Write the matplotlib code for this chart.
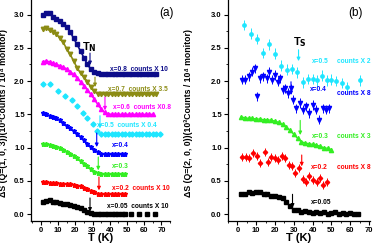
import matplotlib
matplotlib.use("Agg")
import matplotlib.pyplot as plt
from matplotlib.ticker import MultipleLocator

plt.rcParams['font.family'] = ['Liberation Sans', 'DejaVu Sans']
plt.rcParams['font.weight'] = 'bold'

# ---------------- panel (a): Q=(1,0,3) ----------------
a08_T = [1, 3, 5, 7, 9, 11, 13, 15, 17, 19, 21, 23, 25, 27, 29, 31, 33, 35, 37,
         39, 41, 43, 45, 47, 49, 51, 53, 55, 57, 59, 61, 63, 65, 67]
a08_S = [3.00, 3.03, 3.02, 2.97, 2.93, 2.90, 2.86, 2.82, 2.74, 2.64, 2.55, 2.45, 2.35,
         2.25, 2.18, 2.14, 2.12, 2.11, 2.11, 2.11, 2.10, 2.11, 2.10, 2.10, 2.11, 2.10,
         2.10, 2.10, 2.11, 2.10, 2.10, 2.10, 2.10, 2.10]

a07_T = [1, 3, 5, 7, 9, 11, 13, 15, 17, 19, 21, 23, 25, 27, 29, 31, 33, 35, 37,
         39, 41, 43, 45, 47, 49, 51, 53, 55, 57, 59, 61, 63, 65, 67]
a07_S = [2.78, 2.80, 2.76, 2.74, 2.70, 2.65, 2.58, 2.48, 2.40, 2.30, 2.20, 2.12, 2.06,
         1.99, 1.91, 1.85, 1.81, 1.80, 1.80, 1.80, 1.80, 1.80, 1.80, 1.80, 1.80, 1.80,
         1.80, 1.80, 1.80, 1.80, 1.80, 1.80, 1.80, 1.80]

a06_T = [1, 3, 5, 7, 9, 11, 13, 15, 17, 19, 21, 23, 25, 27, 29, 31, 33, 35, 37,
         39, 41, 43, 45, 47, 49, 51, 53, 55, 57, 59, 61, 63, 65]
a06_S = [2.29, 2.30, 2.29, 2.27, 2.25, 2.23, 2.21, 2.18, 2.14, 2.10, 2.05, 1.99, 1.93,
         1.87, 1.80, 1.73, 1.65, 1.58, 1.53, 1.51, 1.50, 1.50, 1.50, 1.50, 1.50, 1.50,
         1.50, 1.50, 1.50, 1.50, 1.50, 1.50, 1.50]

a05_T = [1, 5, 10, 14, 18, 21, 24.5, 27, 30, 32.5, 35, 37, 39, 41, 43, 45, 47, 49,
         51, 53, 55, 57, 59, 61, 63, 65, 67, 69]
a05_S = [1.95, 1.95, 1.85, 1.77, 1.72, 1.63, 1.52, 1.45, 1.35, 1.25, 1.21, 1.20, 1.20,
         1.20, 1.20, 1.20, 1.20, 1.20, 1.20, 1.20, 1.20, 1.20, 1.20, 1.20, 1.20, 1.20,
         1.20, 1.20]

a04_T = [1, 3, 5, 7, 9, 11, 13, 15, 17, 19, 21, 23, 25, 27, 29, 31, 33, 35, 37,
         39, 41, 43, 45, 47, 49]
a04_S = [1.52, 1.50, 1.48, 1.46, 1.44, 1.41, 1.37, 1.33, 1.29, 1.25, 1.21, 1.16, 1.11,
         1.06, 1.01, 0.97, 0.93, 0.91, 0.90, 0.90, 0.90, 0.90, 0.90, 0.90, 0.90]

a03_T = [1, 3, 5, 7, 9, 11, 13, 15, 17, 19, 21, 23, 25, 27, 29, 31, 33, 35, 37,
         39, 41, 43, 45, 47, 49]
a03_S = [1.05, 1.05, 1.04, 1.03, 1.01, 0.99, 0.97, 0.94, 0.91, 0.88, 0.84, 0.80, 0.76,
         0.72, 0.68, 0.64, 0.62, 0.60, 0.60, 0.60, 0.60, 0.60, 0.60, 0.60, 0.60]

a02_T = [1, 3, 5, 7, 9, 11, 13, 15, 17, 19, 21, 23, 25, 27, 29, 31, 33, 35, 37,
         39, 41, 43, 45, 47, 49]
a02_S = [0.48, 0.48, 0.47, 0.47, 0.47, 0.46, 0.46, 0.45, 0.45, 0.44, 0.43, 0.42, 0.40,
         0.38, 0.35, 0.33, 0.31, 0.30, 0.30, 0.30, 0.30, 0.30, 0.30, 0.30, 0.30]

a005_T = [1, 3, 5, 7, 9, 11, 13, 15, 17, 19, 21, 23, 25, 27, 29, 31, 33, 35, 37,
          39, 41, 43, 45, 47, 49]
a005_S = [0.18, 0.20, 0.21, 0.19, 0.18, 0.17, 0.16, 0.15, 0.14, 0.13, 0.11, 0.09, 0.06,
          0.04, 0.02, 0.01, 0.00, 0.00, 0.00, 0.00, 0.00, 0.00, 0.00, 0.00, 0.00]
a005_tail_T = [52.3, 57.2, 61.6, 66.1]
a005_tail_S = [0.0, 0.0, 0.0, 0.0]

# ---------------- panel (b): Q=(2,0,0) ----------------
b05_T = [3.7, 7.1, 10.3, 13.8, 17.0, 20.0, 23.2, 26.3, 28.8, 31.5, 35.0, 37.5, 40.0,
         42.5, 45.0, 47.5, 50.0, 52.5, 55.5, 58.5, 65.0]
b05_S = [2.84, 2.71, 2.63, 2.42, 2.55, 2.41, 2.23, 2.17, 2.18, 2.13, 1.98, 2.03, 2.03,
         2.01, 2.08, 2.01, 2.02, 2.00, 1.97, 1.91, 2.01]
b05_err = 0.08

b04_T = [2.3, 4.1, 5.9, 7.6, 9.4, 10.3, 12.0, 13.8, 15.6, 16.8, 18.5, 20.0, 21.5, 22.7,
         24.0, 25.4, 26.8, 28.3, 29.5, 31.3, 33.1, 34.7, 36.5, 38.2, 40.0, 41.8, 43.6,
         45.3, 47.1, 48.5]
b04_S = [2.02, 2.02, 2.07, 2.14, 2.19, 1.77, 2.04, 2.07, 2.04, 2.14, 2.02, 2.09, 1.99,
         2.04, 1.87, 1.89, 1.82, 1.89, 1.72, 1.59, 1.67, 1.57, 1.62, 1.52, 1.64, 1.57,
         1.42, 1.59, 1.57, 1.59]
b04_err = 0.07

b03_T = [2, 4, 6, 8, 10, 12, 14, 16, 18, 20, 22, 24, 26, 28, 30, 32, 34, 36, 38, 40,
         42, 44, 46, 48, 50]
b03_S = [1.46, 1.45, 1.44, 1.44, 1.43, 1.43, 1.42, 1.42, 1.41, 1.40, 1.38, 1.35, 1.31,
         1.26, 1.20, 1.14, 1.09, 1.07, 1.06, 1.05, 1.04, 1.02, 1.00, 0.99, 0.97]
b03_err = 0.02

b02_T = [2.7, 4.4, 6.2, 8.5, 10.3, 12.1, 14.5, 16.2, 18.0, 19.8, 21.6, 23.7, 25.1, 27.3,
         29.0, 30.7, 32.8, 34.8, 36.6, 38.3, 40.4, 42.2, 44.0, 45.4, 47.5]
b02_S = [0.86, 0.86, 0.84, 0.92, 0.88, 0.77, 0.94, 0.79, 0.86, 0.84, 0.82, 0.88, 0.84,
         0.74, 0.72, 0.62, 0.69, 0.53, 0.49, 0.57, 0.52, 0.49, 0.54, 0.44, 0.49]
b02_err = 0.06

b005_T = [2, 4, 6, 8, 10, 12, 14, 16, 18, 20, 22, 24, 26, 28, 30, 32, 34, 36, 38, 40,
          42, 44, 46, 48, 50, 52, 54, 56, 58, 60, 62, 64]
b005_S = [0.30, 0.31, 0.33, 0.32, 0.33, 0.33, 0.31, 0.30, 0.28, 0.27, 0.26, 0.24, 0.19,
          0.12, 0.07, 0.06, 0.04, 0.05, 0.03, 0.02, 0.03, 0.02, 0.03, 0.01, 0.02, 0.03,
          0.01, 0.02, 0.00, 0.02, 0.01, 0.00]
b005_err = 0.02

NAVY = '#0c0c8a'
OLIVE = '#8c8c14'
MAGENTA = '#ff00ff'
CYAN = '#1ee6ff'
BLUE = '#0000ff'
GREEN = '#33ee22'
RED = '#ff0000'
BLACK = '#000000'

fig = plt.figure(figsize=(3.74, 2.46), dpi=100)
ax_a = fig.add_axes([31 / 374, 0.103, 139 / 374, 0.897])
ax_b = fig.add_axes([228 / 374, 0.103, 142 / 374, 0.897])


def style(ax, xlim, ylabel, ylab_x):
    ax.set_xlim(*xlim)
    ax.set_ylim(-0.096, 3.218)
    for s in ['top', 'right']:
        ax.spines[s].set_visible(False)
    for s in ['left', 'bottom']:
        ax.spines[s].set_linewidth(0.9)
    ax.xaxis.set_major_locator(MultipleLocator(10))
    ax.xaxis.set_minor_locator(MultipleLocator(5))
    ax.yaxis.set_major_locator(MultipleLocator(0.5))
    ax.yaxis.set_minor_locator(MultipleLocator(0.25))
    ax.tick_params(which='major', length=3, width=0.8, labelsize=5.5, pad=1.5)
    ax.tick_params(which='minor', length=1.5, width=0.6)
    ax.set_xlabel('T (K)', fontsize=8, fontweight='bold')
    ax.xaxis.set_label_coords(0.5, -0.058)
    ax.set_ylabel(ylabel, fontsize=6.3, fontweight='bold')
    ax.yaxis.set_label_coords(ylab_x, 0.49)


def down_arrow(ax, x, y0, y1, color):
    ax.annotate('', xy=(x, y1), xytext=(x, y0),
                arrowprops=dict(arrowstyle='-|>', color=color, lw=0.8,
                                mutation_scale=5, shrinkA=0, shrinkB=0))


# panel (a) curves
ax = ax_a
ax.plot(a08_T, a08_S, 's-', color=NAVY, ms=3, lw=1.2)
ax.plot(a07_T, a07_S, 'v-', color=OLIVE, ms=3.2, lw=1.2)
ax.plot(a06_T, a06_S, '^-', color=MAGENTA, ms=3, lw=1.2)
ax.plot(a05_T, a05_S, 'D', color=CYAN, ms=2.6)
ax.plot(a04_T, a04_S, '*-', color=BLUE, ms=3.6, lw=1.2)
ax.plot(a03_T, a03_S, '*-', color=GREEN, ms=3.6, lw=1.2)
ax.plot(a02_T, a02_S, '*-', color=RED, ms=3.6, lw=1.2)
ax.plot(a005_T, a005_S, 's-', color=BLACK, ms=2.8, lw=1.2)
ax.plot(a005_tail_T, a005_tail_S, 's', color=BLACK, ms=2.8)

down_arrow(ax, 28.5, 2.42, 2.24, NAVY)
down_arrow(ax, 31.4, 2.06, 1.91, OLIVE)
down_arrow(ax, 37.2, 1.76, 1.56, MAGENTA)
down_arrow(ax, 34.3, 1.48, 1.29, CYAN)
down_arrow(ax, 32.4, 1.22, 1.01, BLUE)
down_arrow(ax, 33.3, 0.86, 0.66, GREEN)
down_arrow(ax, 33.7, 0.56, 0.36, RED)
down_arrow(ax, 28.5, 0.245, 0.04, BLACK)

ax.text(28, 2.51, r'T$_\mathbf{N}$', color=BLACK, fontsize=8, ha='center', va='center')
lab = dict(fontsize=4.8, va='center', ha='left')
ax.text(40, 2.17, 'x=0.8  counts X 10', color=NAVY, **lab)
ax.text(39, 1.88, 'x=0.7  counts X 3.5', color=OLIVE, **lab)
ax.text(41.7, 1.60, 'x=0.6  counts X0.8', color=MAGENTA, **lab)
ax.text(32.6, 1.34, 'x=0.5  counts X 0.4', color=CYAN, **lab)
ax.text(41, 1.04, 'x=0.4', color=BLUE, **lab)
ax.text(41, 0.71, 'x=0.3', color=GREEN, **lab)
ax.text(41, 0.39, 'x=0.2  counts X 10', color=RED, **lab)
ax.text(38.4, 0.11, 'x=0.05  counts X 10', color=BLACK, **lab)
ax.text(73, 3.02, '(a)', fontsize=8.5, fontweight='normal', ha='center', va='center')

style(ax, (-5.8, 75), 'ΔS (Q=(1, 0, 3))(10³Counts / 10⁴ monitor)', -0.165)

# panel (b) curves
ax = ax_b
eb = dict(elinewidth=0.7, capsize=0)
ax.errorbar(b05_T, b05_S, yerr=b05_err, fmt='o', color=CYAN, ms=2.4, **eb)
ax.errorbar(b04_T, b04_S, yerr=b04_err, fmt='v', color=BLUE, ms=3, **eb)
ax.errorbar(b03_T, b03_S, yerr=b03_err, fmt='^-', color=GREEN, ms=3, lw=1.0, **eb)
ax.errorbar(b02_T, b02_S, yerr=b02_err, fmt='D', color=RED, ms=2.2, **eb)
ax.errorbar(b005_T, b005_S, yerr=b005_err, fmt='s-', color=BLACK, ms=2.6, lw=1.0, **eb)

down_arrow(ax, 32.5, 2.47, 2.30, CYAN)
down_arrow(ax, 28.5, 1.99, 1.79, BLUE)
down_arrow(ax, 33.4, 1.41, 1.19, GREEN)
down_arrow(ax, 34.2, 0.89, 0.72, RED)
down_arrow(ax, 29.3, 0.30, 0.10, BLACK)

ax.text(33.3, 2.58, r'T$_\mathbf{S}$', color=BLACK, fontsize=8, ha='center', va='center')
ax.text(39.7, 2.29, 'x=0.5', color=CYAN, **lab)
ax.text(53, 2.29, 'counts X 2', color=CYAN, **lab)
ax.text(38.7, 1.88, 'x=0.4', color=BLUE, **lab)
ax.text(53, 1.82, 'counts X 8', color=BLUE, **lab)
ax.text(39.5, 1.17, 'x=0.3', color=GREEN, **lab)
ax.text(53, 1.17, 'counts X 3', color=GREEN, **lab)
ax.text(39, 0.70, 'x=0.2', color=RED, **lab)
ax.text(53, 0.70, 'counts X 8', color=RED, **lab)
ax.text(39, 0.17, 'x=0.05', color=BLACK, **lab)
ax.text(63, 3.02, '(b)', fontsize=8.5, fontweight='normal', ha='center', va='center')

style(ax, (-5, 70.5), 'ΔS (Q=(2, 0, 0))(10³Counts / 10⁴ monitor)', -0.246)

fig.savefig('out.png', dpi=100)
